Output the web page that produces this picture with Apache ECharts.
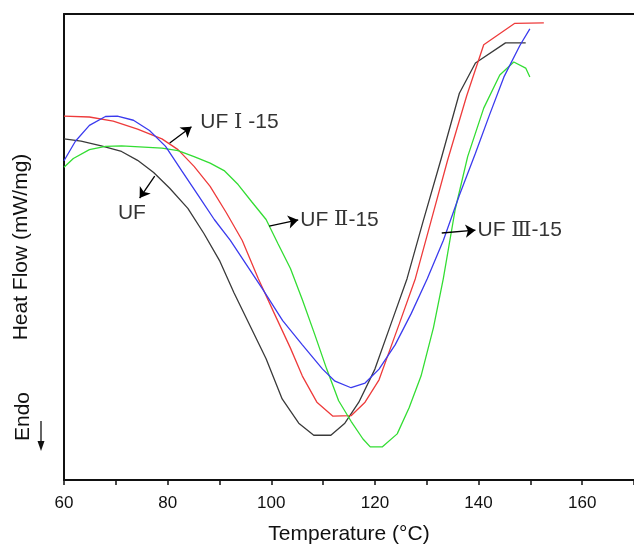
<!DOCTYPE html>
<html>
<head>
<meta charset="utf-8">
<script src="https://cdn.jsdelivr.net/npm/echarts@6/dist/echarts.min.js"></script>
<style>html,body{margin:0;padding:0;background:#fff}#c{width:634px;height:545px}</style>
</head>
<body>
<div id="c"></div>
<script>
// ---- data ----
const ufX   = [60,63.3,67.2,71.1,74.2,77.3,80.4,83.9,87.0,90.1,92.8,95.9,99.0,102.1,105.3,108.2,111.5,114.2,116.9,120.0,123.1,126.2,129.3,132.8,136.3,139.4,145.2,149.1];
const ufY   = [73.2,72.7,71.7,70.5,68.6,66.0,62.6,58.3,52.9,46.9,40.2,33.1,26.0,17.4,12.2,9.6,9.6,12.2,16.7,23.8,33.5,43.2,55.5,69.0,83.0,89.5,93.8,93.8];

const uf1X  = [60,64.9,69.5,74.2,78.9,82.0,85.1,88.2,91.3,94.4,97.5,100.6,103.7,106.0,108.8,111.9,115.4,118.1,120.8,124.7,127.8,130.7,134.0,137.7,141.0,147.0,152.6];
const uf1Y  = [78.1,77.9,77.0,75.3,73.2,70.9,67.3,63.0,57.4,51.4,43.2,35.7,28.3,22.3,16.7,13.7,13.8,16.7,21.5,33.5,43.2,55.0,68.5,82.4,93.4,98.0,98.1];

const uf2X  = [60,61.8,64.9,68.0,71.1,78.9,82.0,85.1,88.2,90.9,93.6,96.3,99.0,101.3,103.7,106.0,108.4,110.7,113.0,115.4,117.7,119.1,121.4,124.3,126.6,128.9,131.3,133.2,135.5,137.9,141.0,144.1,146.8,149.1,149.9];
const uf2Y  = [67.1,69.0,70.9,71.6,71.7,71.2,70.7,69.4,68.0,66.4,63.4,59.6,55.9,50.7,45.4,38.7,31.2,23.8,17.0,12.6,8.8,7.1,7.1,9.9,15.5,22.3,32.7,43.2,58.1,69.4,79.8,86.9,89.7,88.4,86.5];

const uf3X  = [60,62.2,64.9,68.0,70.3,73.4,76.5,79.6,82.7,85.9,89.0,92.1,95.2,98.3,102.2,106.0,109.9,112.3,115.4,118.1,120.8,123.9,127.0,130.1,133.2,136.3,139.4,142.1,144.9,148.0,149.9];
const uf3Y  = [68.5,72.7,76.1,78.0,78.1,77.2,75.0,71.6,66.4,61.1,55.9,51.4,46.2,41.0,34.2,29.0,23.8,21.2,19.8,20.8,23.8,29.0,35.7,43.2,51.4,61.1,70.1,78.3,86.5,93.3,96.8];

const seriesNames  = ['UF', 'UF Ⅰ-15', 'UF Ⅱ-15', 'UF Ⅲ-15'];
const seriesColors = ['#3a3a3a', '#ee3b3b', '#33dd33', '#3b3bee'];

// annotation: label texts, label anchor [x,y], arrow tail [x,y], arrow head [x,y]
const annoText  = ['{a|UF }{r|Ⅰ}{a| -15}', '{a|UF}', '{a|UF }{r|Ⅱ}{a|-15}', '{a|UF }{r|Ⅲ}{a|-15}'];
const annoAt    = [[86.3, 76.7], [73.1, 57.3], [105.6, 55.8], [139.8, 53.5]];
const annoAlign = ['left', 'center', 'left', 'left'];
const arrowFrom = [[80.4, 72.3], [77.5, 65.2], [99.6, 54.5], [132.9, 53.0]];
const arrowTo   = [[84.6, 75.8], [74.6, 60.5], [105.2, 55.8], [139.4, 53.6]];

const xTickMin = 60, xTickMax = 170, xTickStep = 20;
// ----------------------------------------

const zip = (xs, ys) => xs.map((x, i) => [x, ys[i]]);
const curves = [zip(ufX, ufY), zip(uf1X, uf1Y), zip(uf2X, uf2Y), zip(uf3X, uf3Y)];

const FONT = "'Liberation Sans', Arial, sans-serif";
const rich = {
  a: { fontFamily: FONT, fontSize: 21, color: '#000' },
  r: { fontFamily: "'DejaVu Serif', 'Liberation Serif', 'Noto Sans CJK SC', serif", fontSize: 21, color: '#000' }
};

const chart = echarts.init(document.getElementById('c'), null, { renderer: 'canvas' });

const series = curves.map((d, i) => ({
  name: seriesNames[i], type: 'line', data: d, showSymbol: false, symbol: 'none',
  smooth: false, lineStyle: { color: seriesColors[i], width: 1.3 }, silent: true,
  xAxisIndex: 0, yAxisIndex: 0, z: 3
}));

series.push({
  type: 'line', data: [], silent: true, xAxisIndex: 0, yAxisIndex: 0,
  markLine: {
    silent: true, animation: false,
    symbol: ['none', 'arrow'], symbolSize: 10,
    label: { show: false },
    lineStyle: { color: '#000', width: 1.3, type: 'solid', opacity: 1 },
    emphasis: { disabled: true },
    data: arrowFrom.map((p, i) => [{ coord: p }, { coord: arrowTo[i] }])
  }
});

series.push({
  type: 'scatter', silent: true, symbolSize: 0, xAxisIndex: 0, yAxisIndex: 0,
  data: annoAt.map((p, i) => ({
    value: p,
    label: {
      show: true, formatter: annoText[i], rich: rich,
      position: annoAlign[i] === 'left' ? 'right' : 'inside', distance: 0
    }
  }))
});

chart.setOption({
  animation: false,
  backgroundColor: '#fff',
  grid: { left: 64, right: 0, top: 14, bottom: 65, containLabel: false, outerBoundsMode: 'none' },
  xAxis: [{
    type: 'value', min: xTickMin, max: xTickMax, interval: xTickStep,
    position: 'bottom',
    axisLine: { show: true, onZero: false, lineStyle: { color: '#111', width: 2 } },
    axisTick: { show: true, inside: false, length: 5, lineStyle: { color: '#111', width: 1.5 } },
    minorTick: { show: true, splitNumber: 2, length: 5, lineStyle: { color: '#111', width: 1.5 } },
    splitLine: { show: false },
    axisLabel: { show: true, margin: 15, fontSize: 17, fontFamily: FONT, color: '#111', showMaxLabel: false },
    name: 'Temperature (°C)', nameLocation: 'middle', nameGap: 44,
    nameTextStyle: { fontSize: 21, fontFamily: FONT, color: '#111' }
  }, {
    type: 'value', min: xTickMin, max: xTickMax, position: 'top',
    axisLine: { show: true, onZero: false, lineStyle: { color: '#111', width: 2 } },
    axisTick: { show: false }, axisLabel: { show: false }, splitLine: { show: false }
  }],
  yAxis: [{
    type: 'value', min: 0, max: 100, position: 'left',
    axisLine: { show: true, onZero: false, lineStyle: { color: '#111', width: 2 } },
    axisTick: { show: false }, axisLabel: { show: false }, splitLine: { show: false },
    name: 'Heat Flow (mW/mg)', nameLocation: 'middle', nameGap: 32, nameRotate: 90,
    nameTextStyle: { fontSize: 21, fontFamily: FONT, color: '#111' }
  }],
  graphic: [
    { type: 'text', rotation: Math.PI / 2, x: 13, y: 441,
      style: { text: 'Endo', font: "21px 'Liberation Sans', Arial, sans-serif", fill: '#111', textAlign: 'left', textVerticalAlign: 'top' } },
    { type: 'line', shape: { x1: 41, y1: 421, x2: 41, y2: 443 }, style: { stroke: '#111', lineWidth: 1.3 } },
    { type: 'polygon', shape: { points: [[37.5, 441], [44.5, 441], [41, 451]] }, style: { fill: '#111' } }
  ],
  series: series
});
</script>
</body>
</html>
